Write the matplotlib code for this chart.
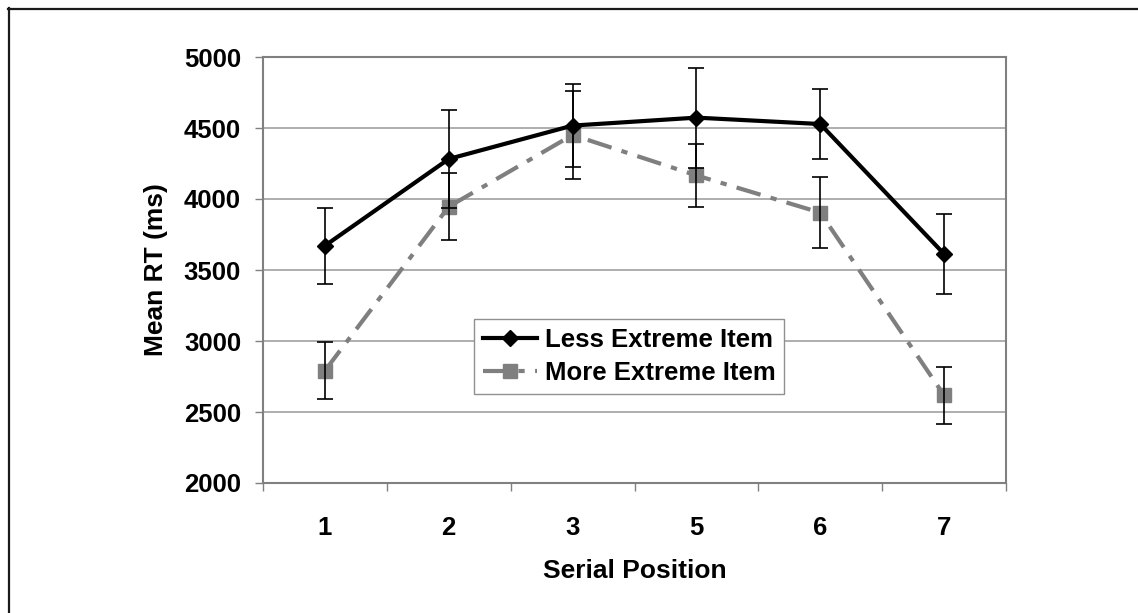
import matplotlib
matplotlib.use("Agg")
import matplotlib.pyplot as plt
from matplotlib.lines import Line2D
import numpy as np

plt.rcParams['font.family'] = ['Liberation Sans', 'DejaVu Sans']
plt.rcParams['font.weight'] = 'bold'

categories = ['1', '2', '3', '5', '6', '7']
less_mean = [3671, 4282, 4517, 4573, 4528, 3613]
less_err = [267, 345, 295, 352, 246, 283]
more_mean = [2791, 3946, 4451, 4166, 3904, 2618]
more_err = [201, 238, 311, 223, 248, 202]
y_ticks = [2000, 2500, 3000, 3500, 4000, 4500, 5000]

W, H = 1138, 613
fig = plt.figure(figsize=(W / 100, H / 100), dpi=100)
ax = fig.add_axes([263 / W, 1 - 483 / H, (1006 - 263) / W, (483 - 57) / H])

x = np.arange(1, len(categories) + 1)

grid_c = '#a8a8a8'
spine_c = '#808080'

for yt in y_ticks[1:]:
    ax.axhline(yt, color=grid_c, lw=1.3, zorder=0)

ax.plot(x, more_mean, color='#7f7f7f', lw=3.0, linestyle=(0, (6, 2.5, 1.5, 2.5)),
        marker='s', markersize=10, markerfacecolor='#7f7f7f', markeredgecolor='#7f7f7f',
        zorder=2, label='More Extreme Item')
ax.plot(x, less_mean, color='black', lw=3.0, marker='D', markersize=8,
        markerfacecolor='black', markeredgecolor='black', zorder=3,
        label='Less Extreme Item')

ax.errorbar(x, less_mean, yerr=less_err, fmt='none', ecolor='black', elinewidth=1.2,
            capsize=5.5, capthick=1.2, zorder=4)
ax.errorbar(x, more_mean, yerr=more_err, fmt='none', ecolor='black', elinewidth=1.2,
            capsize=5.5, capthick=1.2, zorder=4)

ax.set_xlim(0.5, len(categories) + 0.5)
ax.set_ylim(2000, 5000)
ax.set_yticks(y_ticks)
ax.set_yticklabels([str(v) for v in y_ticks])
ax.tick_params(axis='y', length=5.8, width=1, color=spine_c, pad=10, labelsize=18.5)

ax.set_xticks(np.arange(0.5, len(categories) + 1, 1.0))
ax.set_xticklabels([])
ax.tick_params(axis='x', which='major', length=5.8, width=1, color=spine_c)
ax.set_xticks(x, minor=True)
ax.set_xticklabels(categories, minor=True)
ax.tick_params(axis='x', which='minor', length=0, pad=24, labelsize=18.5)

for s in ax.spines.values():
    s.set_color(spine_c)
    s.set_linewidth(1.5)

ax.set_ylabel('Mean RT (ms)', fontsize=19, fontweight='bold')
ax.yaxis.set_label_coords(-0.128, 0.5)
ax.set_xlabel('Serial Position', fontsize=19, fontweight='bold', va='top')
ax.xaxis.set_label_coords(0.5, -0.178)

handles, labels = ax.get_legend_handles_labels()
leg = fig.legend(handles[::-1], labels[::-1], loc='upper left',
                 bbox_to_anchor=(474 / W, 1 - 319 / H), borderaxespad=0,
                 fontsize=18.5, frameon=True, fancybox=False, framealpha=1,
                 edgecolor='#909090', handlelength=2.1, handletextpad=0.3,
                 borderpad=0.35, labelspacing=0.35)
leg.get_frame().set_linewidth(1.0)
for t in leg.get_texts():
    t.set_fontweight('bold')

fig.add_artist(Line2D([8.5 / W, 8.5 / W], [0, 1 - 8 / H], transform=fig.transFigure,
                      color='#1a1a1a', lw=1.6))
fig.add_artist(Line2D([8 / W, 1], [1 - 8.5 / H, 1 - 8.5 / H], transform=fig.transFigure,
                      color='#1a1a1a', lw=1.6))

fig.savefig('out.png', dpi=100)
